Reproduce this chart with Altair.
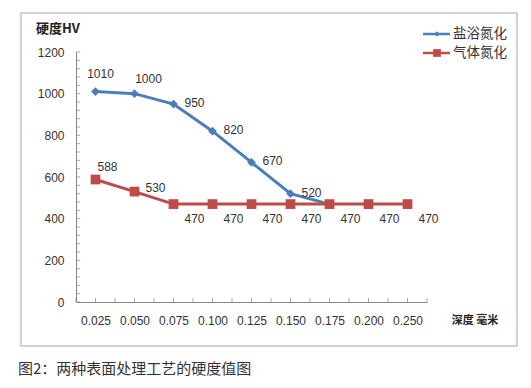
import json
import altair as alt
import pandas as pd

# ---- data ----
categories = ["0.025", "0.050", "0.075", "0.100", "0.125", "0.150", "0.175", "0.200", "0.250"]
salt_bath = [1010, 1000, 950, 820, 670, 520, 470]
gas = [588, 530, 470, 470, 470, 470, 470, 470, 470]
series_names = ["盐浴氮化", "气体氮化"]
y_labels = [0, 200, 400, 600, 800, 1000, 1200]
y_minor = list(range(0, 1201, 40))
x_tick_marks = [i * 0.5 - 0.5 for i in range(2 * len(categories) + 1)]
y_title = ["硬度HV"]
x_title = ["深度 毫米"]
caption = ["图2：两种表面处理工艺的硬度值图"]

BLUE = "#4A7EBB"
RED = "#BE4B48"
GREY = "#868686"
TXT = "#333333"
NUM_FONT = "Liberation Sans"
CJK_FONT = "Noto Sans CJK SC"

rows = []
for i, v in enumerate(salt_bath):
    rows.append({"idx": i, "value": v, "series": series_names[0]})
for i, v in enumerate(gas):
    rows.append({"idx": i, "value": v, "series": series_names[1]})
df = pd.DataFrame(rows)

W, H = 351, 250
xscale = alt.Scale(domain=[-0.5, len(categories) - 0.5], nice=False, zero=False)
yscale = alt.Scale(domain=[0, 1200], nice=False)
label_expr = json.dumps(categories, ensure_ascii=False) + "[datum.value]"

x_axis = alt.Axis(values=list(range(len(categories))), labelExpr=label_expr, ticks=False, grid=False,
                  title=None, domainColor=GREY, domainWidth=1, labelPadding=13,
                  labelFont=NUM_FONT, labelFontSize=12, labelColor=TXT)
y_axis = alt.Axis(values=y_labels, format="d", ticks=False, grid=False, title=None, domainColor=GREY,
                  domainWidth=1, labelPadding=12, labelFont=NUM_FONT, labelFontSize=12,
                  labelColor=TXT)

base = alt.Chart(df)
X = alt.X("idx:Q", scale=xscale, axis=x_axis)
Y = alt.Y("value:Q", scale=yscale, axis=y_axis)

blue_f = alt.datum.series == series_names[0]
red_f = alt.datum.series == series_names[1]

blue_line = base.transform_filter(blue_f).mark_line(color=BLUE, strokeWidth=3).encode(x=X, y=Y)
blue_pts = base.transform_filter(blue_f).mark_point(shape="diamond", filled=True, size=75,
                                                    color=BLUE, opacity=1).encode(x=X, y=Y)
red_line = base.transform_filter(red_f).mark_line(color=RED, strokeWidth=3).encode(x=X, y=Y)
red_pts = base.transform_filter(red_f).mark_point(shape="square", filled=True, size=95,
                                                  color=RED, opacity=1).encode(x=X, y=Y)


def labels(flt, dx, dy):
    return base.transform_filter(flt).mark_text(
        font=NUM_FONT, fontSize=12, color=TXT, align="center", baseline="middle", dx=dx, dy=dy
    ).encode(x=X, y=Y, text=alt.Text("value:Q", format="d"))


lab = [
    labels(blue_f & (alt.datum.idx == 0), 5, -18),
    labels(blue_f & (alt.datum.idx == 1), 14, -15),
    labels(blue_f & (alt.datum.idx >= 2) & (alt.datum.idx <= 5), 21, -1),
    labels(red_f & (alt.datum.idx == 0), 12, -13),
    labels(red_f & (alt.datum.idx == 1), 21, -4),
    labels(red_f & (alt.datum.idx >= 2), 21, 15),
]

# inside tick marks (same fields / axes as the data layers so the axes merge)
ytk = alt.Chart(pd.DataFrame({"value": y_minor})).mark_tick(
    orient="horizontal", size=4, thickness=1, color=GREY
).encode(y=Y, x=alt.value(2))
xtk = alt.Chart(pd.DataFrame({"idx": x_tick_marks})).mark_tick(
    orient="vertical", size=4, thickness=1, color=GREY
).encode(x=X, y=alt.value(H - 2))

one = pd.DataFrame({"a": [0]})
frame = alt.Chart(one).mark_rect(stroke="#C4C4C4", strokeWidth=1.5, fillOpacity=0).encode(
    x=alt.value(-55), x2=alt.value(441), y=alt.value(-39), y2=alt.value(294)
)

ytitle = alt.Chart(pd.DataFrame({"t": y_title})).mark_text(
    font=CJK_FONT, fontSize=13, fontWeight="bold", color="#222", align="left", baseline="middle"
).encode(x=alt.value(-40), y=alt.value(-23), text="t:N")
xtitle = alt.Chart(pd.DataFrame({"t": x_title})).mark_text(
    font=CJK_FONT, fontSize=11, fontWeight="bold", color="#222", align="center", baseline="middle"
).encode(x=alt.value(399), y=alt.value(269), text="t:N")
cap = alt.Chart(pd.DataFrame({"t": caption})).mark_text(
    font=CJK_FONT, fontSize=15, color=TXT, align="left", baseline="middle"
).encode(x=alt.value(-58), y=alt.value(317), text="t:N")

# legend
leg = []
for name, col, shape, sz, ly in [(series_names[0], BLUE, "diamond", 30, -18),
                                  (series_names[1], RED, "square", 60, 1)]:
    d = pd.DataFrame({"t": [name]})
    leg.append(alt.Chart(d).mark_rule(color=col, strokeWidth=2.5).encode(
        x=alt.value(347), x2=alt.value(374), y=alt.value(ly)))
    leg.append(alt.Chart(d).mark_point(shape=shape, filled=True, size=sz, color=col, opacity=1).encode(
        x=alt.value(361), y=alt.value(ly)))
    leg.append(alt.Chart(d).mark_text(font=CJK_FONT, fontSize=13.5, color=TXT, align="left",
                                      baseline="middle").encode(
        x=alt.value(377), y=alt.value(ly), text="t:N"))

chart = alt.layer(
    blue_line, blue_pts, red_line, red_pts, *lab, ytk, xtk, frame, ytitle, xtitle, cap, *leg
).properties(
    width=W, height=H,
    autosize=alt.AutoSizeParams(type="none"),
    padding={"left": 68, "top": 44, "right": 96, "bottom": 78},
).configure_view(stroke=None)

chart.save("out.html", embed_options={"renderer": "svg", "actions": False})
